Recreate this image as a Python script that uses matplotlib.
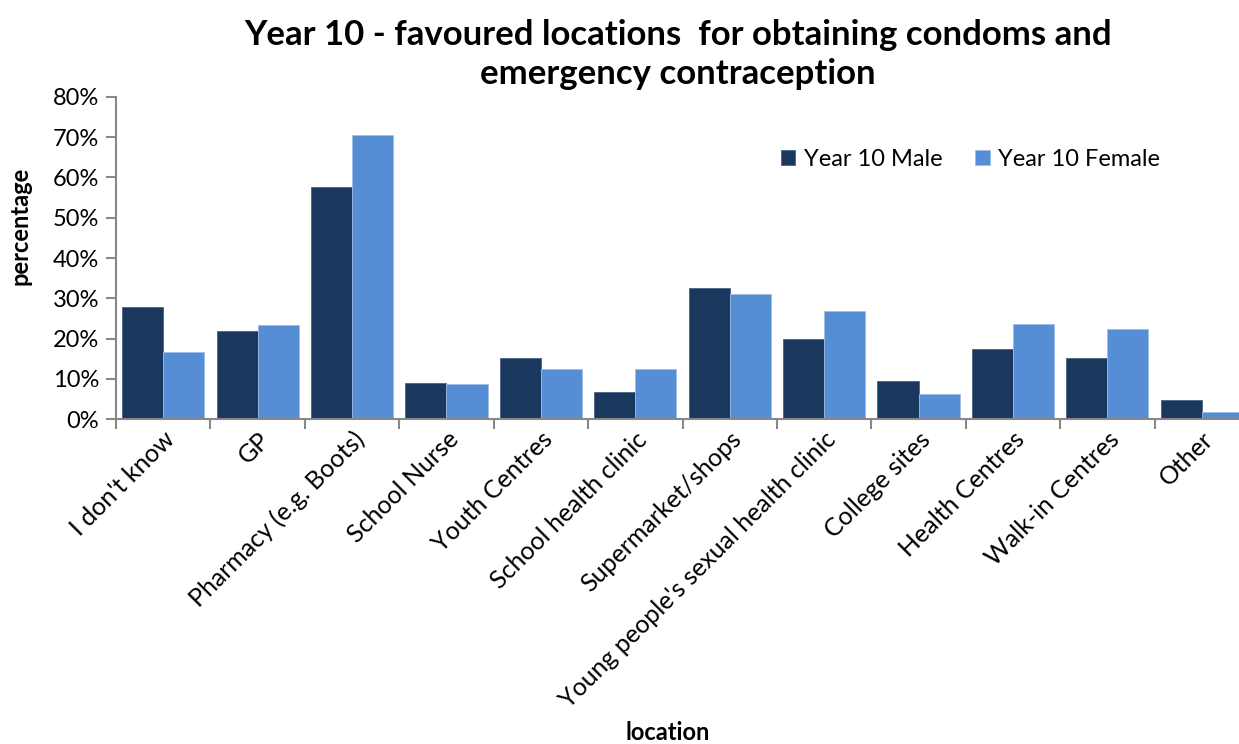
import numpy as np
import matplotlib.pyplot as plt
from matplotlib.ticker import PercentFormatter

plt.rcParams['font.family'] = ['Lato', 'DejaVu Sans']

# Data (percent)
locations = ["I don't know", "GP", "Pharmacy (e.g. Boots)", "School Nurse",
             "Youth Centres", "School health clinic", "Supermarket/shops",
             "Young people's sexual health clinic", "College sites",
             "Health Centres", "Walk-in Centres", "Other"]
male = [27.8, 22.0, 57.7, 8.9, 15.2, 6.8, 32.5, 20.0, 9.4, 17.4, 15.2, 4.7]
female = [16.6, 23.4, 70.5, 8.7, 12.6, 12.6, 31.0, 26.9, 6.4, 23.6, 22.4, 1.7]

fig = plt.figure(figsize=(12.39, 7.44), dpi=100)
ax = fig.add_axes([0.0936, 0.4364, 0.9145, 0.4336])

x = np.arange(len(locations))
w = 0.435
ax.bar(x - w / 2, male, width=w, color='#1A375E', edgecolor='#4A6283',
       linewidth=0.6, label='Year 10 Male')
ax.bar(x + w / 2, female, width=w, color='#558ED5', edgecolor='#9CBDE6',
       linewidth=0.6, label='Year 10 Female')

ax.set_xlim(-0.5, len(locations) - 0.5)
ax.set_ylim(0, 80)
ax.set_yticks(np.arange(0, 81, 10))
ax.yaxis.set_major_formatter(PercentFormatter(decimals=0))

# category labels centred, tick marks between categories
ax.set_xticks(x)
ax.set_xticklabels(locations, rotation=45, ha='right', rotation_mode='anchor',
                   fontsize=18)
ax.set_xticks(np.arange(-0.5, len(locations)), minor=True)
ax.tick_params(axis='x', which='major', length=0, pad=6)
ax.tick_params(axis='x', which='minor', length=7, width=1.5, color='#888888')
ax.tick_params(axis='y', length=7, width=1.5, color='#888888', labelsize=17, pad=5)

for side in ['top', 'right']:
    ax.spines[side].set_visible(False)
for side in ['left', 'bottom']:
    ax.spines[side].set_color('#888888')
    ax.spines[side].set_linewidth(1.5)

ax.set_ylabel('percentage', fontsize=17, fontweight='bold', va='center')
ax.yaxis.set_label_coords(-0.085, 0.60)
fig.text(0.539, 0.0, 'location', ha='center', va='bottom',
         fontsize=17, fontweight='bold')
fig.suptitle('Year 10 - favoured locations  for obtaining condoms and\nemergency contraception',
             x=0.547, y=0.975, fontsize=25, fontweight='bold', linespacing=1.3)

ax.legend(loc='upper right', bbox_to_anchor=(0.94, 0.905), ncol=2, frameon=False,
          fontsize=17, handlelength=0.6, handleheight=0.6, handletextpad=0.35,
          columnspacing=1.4)

fig.savefig('out.png', dpi=100)
